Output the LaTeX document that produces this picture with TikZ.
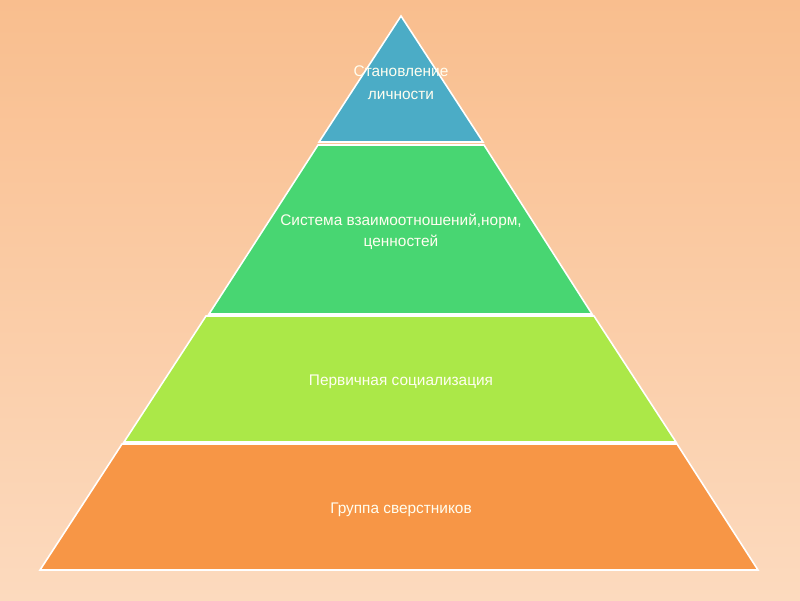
\documentclass[tikz,border=0pt]{standalone}
\usepackage{fontspec}
\setmainfont{Liberation Sans}
\usetikzlibrary{positioning}
\definecolor{fondhaut}{RGB}{249,190,142}
\definecolor{fondbas}{RGB}{252,218,190}
\definecolor{bleu}{RGB}{75,172,198}
\definecolor{vert}{RGB}{72,214,114}
\definecolor{vertclair}{RGB}{171,232,72}
\definecolor{orangec}{RGB}{247,150,70}

\begin{document}
\begin{tikzpicture}[x=1pt,y=-1pt,
  couche/.style={draw=white,line width=1.6pt,line join=miter},
  texte/.style={text=white!94!yellow,font=\fontsize{15.4}{21}\selectfont,align=center,inner sep=0pt}]
  % fond
  \shade[top color=fondhaut,bottom color=fondbas] (0,0) rectangle (800,600);
  \useasboundingbox (0,0) rectangle (800,600);
  % couches de la pyramide
  \filldraw[couche,fill=orangec] (122,444) -- (677,444) -- (758,570) -- (40,570) -- cycle;
  \filldraw[couche,fill=vertclair] (206,316) -- (594,316) -- (676,442) -- (124,442) -- cycle;
  \filldraw[couche,fill=vert] (318,145) -- (484,145) -- (592,314) -- (209,314) -- cycle;
  \filldraw[couche,fill=bleu] (401,16) -- (483,142) -- (319,142) -- cycle;
  % etiquettes
  \node[texte,font=\fontsize{15.4}{23}\selectfont] (lichn) at (401,82.5) {Становление\\личности};
  \node[texte] (sist) at (401,231.5) {Система взаимоотношений,норм,\\ценностей};
  \node[texte] (perv) at (401,381.5) {Первичная социализация};
  \node[texte] (grup) at (401,509.5) {Группа сверстников};
\end{tikzpicture}
\end{document}
